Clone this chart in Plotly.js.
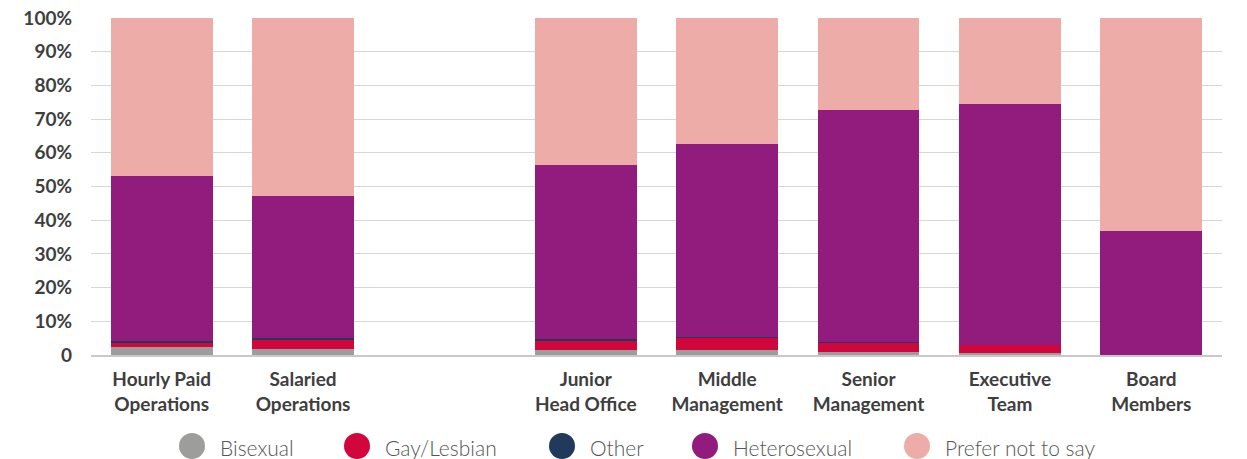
<!DOCTYPE html>
<html><head><meta charset="utf-8">
<script src="https://cdn.plot.ly/plotly-3.0.1.min.js"></script>
<style>html,body{margin:0;padding:0;background:#fff}#chart{width:1247px;height:459px}</style>
</head><body><div id="chart"></div>
<script>
const categories = ["Hourly Paid<br>Operations","Salaried<br>Operations","Junior<br>Head Office","Middle<br>Management","Senior<br>Management","Executive<br>Team","Board<br>Members"];
const positions = [0,1,3,4,5,6,7];
const bisexual     = [2.3, 1.8, 1.4, 1.4, 0.8, 0.6, 0];
const gayLesbian   = [1.4, 2.6, 2.9, 3.6, 2.8, 2.3, 0];
const other        = [0.6, 0.6, 0.4, 0.4, 0.2, 0.0, 0];
const heterosexual = [48.8, 42.2, 51.7, 57.2, 68.9, 71.6, 36.8];
const preferNot    = [46.9, 52.8, 43.6, 37.4, 27.3, 25.5, 63.2];
const seriesNames  = ["Bisexual","Gay/Lesbian","Other","Heterosexual","Prefer not to say"];
const seriesColors = ["#9d9d9c","#d0063d","#213a5c","#921c7e","#edaca7"];
const yTickVals = [0,10,20,30,40,50,60,70,80,90,100];
const yTickText = ["0","10%","20%","30%","40%","50%","60%","70%","80%","90%","100%"];

const seriesValues = [bisexual, gayLesbian, other, heterosexual, preferNot];
const traces = seriesNames.map((n,i) => ({
  type:"bar", x:positions, y:seriesValues[i], name:n,
  marker:{color:seriesColors[i], line:{width:0}}, width:0.72, hoverinfo:"name+y"
}));

// Custom legend (large round swatches) placed below the plot
const PLOT_L = 91, PLOT_W = 1131, PLOT_T = 18, PLOT_H = 337;
const legendCircleX = [192, 357, 562, 705, 917];   // pixel centres
const legendCY = 446;
const px2x = p => (p - PLOT_L) / PLOT_W;
const py2y = p => (PLOT_T + PLOT_H - p) / PLOT_H;
const shapes = seriesNames.map((n,i) => ({
  type:"circle", xref:"paper", yref:"paper",
  xsizemode:"pixel", ysizemode:"pixel",
  xanchor:px2x(legendCircleX[i]), yanchor:py2y(legendCY),
  x0:-13, x1:13, y0:-13, y1:13,
  fillcolor:seriesColors[i], line:{width:0}
}));
const annotations = seriesNames.map((n,i) => ({
  xref:"paper", yref:"paper", x:px2x(legendCircleX[i] + 26), y:py2y(legendCY + 1),
  xanchor:"left", yanchor:"middle", showarrow:false, text:n,
  font:{family:"Lato, sans-serif", size:21, color:"#555", weight:300}
}));

const layout = {
  width:1247, height:459,
  margin:{l:PLOT_L, r:1247-PLOT_L-PLOT_W, t:PLOT_T, b:459-PLOT_T-PLOT_H},
  barmode:"stack", bargap:0, showlegend:false,
  paper_bgcolor:"#fff", plot_bgcolor:"#fff",
  font:{family:"Lato, 'Open Sans', sans-serif", color:"#3e3e3e"},
  xaxis:{range:[-0.5,7.5], tickvals:positions, ticktext:categories, showgrid:false, zeroline:false,
         showline:true, linecolor:"#c8c8c8", linewidth:2, ticks:"", ticklabelstandoff:6,
         tickfont:{size:19, color:"#3e3e3e", family:"Lato, sans-serif", weight:"bold"}},
  yaxis:{range:[0,100], tickvals:yTickVals, ticktext:yTickText, showgrid:true, gridcolor:"#d6d6d6", gridwidth:1,
         zeroline:false, ticks:"", ticklabelstandoff:18,
         tickfont:{size:19, color:"#3e3e3e", family:"Lato, sans-serif", weight:"bold"}},
  shapes:shapes, annotations:annotations
};
Plotly.newPlot("chart", traces, layout, {displayModeBar:false, staticPlot:true});
</script></body></html>
